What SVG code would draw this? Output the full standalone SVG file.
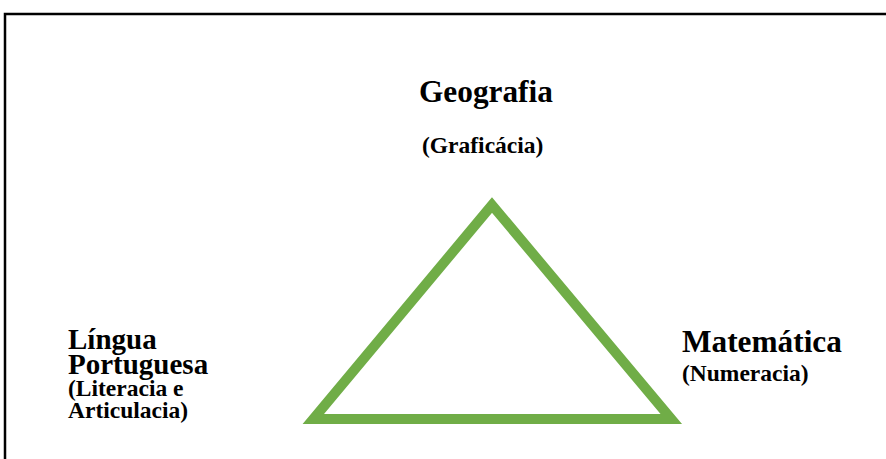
<svg xmlns="http://www.w3.org/2000/svg" width="886" height="459" viewBox="0 0 886 459">
<style>
.t{font-family:"Liberation Serif","Times New Roman",serif;font-weight:bold;fill:#000}
.h{font-size:31.3px}
.h2{font-size:29px}
.s{font-size:23.5px}
</style>
<rect width="886" height="459" fill="#fff"/>
<path d="M5 459 V14 H886" fill="none" stroke="#000" stroke-width="2.5"/>
<g id="triangle">
<polygon points="492,205 313.3,419 671.3,419" fill="none" stroke="#70AD47" stroke-width="10" stroke-linejoin="miter"/>
</g>
<g id="geografia">
<text class="t h" x="419" y="102">Geografia</text>
<text class="t s" x="422" y="153">(Graficácia)</text>
</g>
<g id="lingua">
<text class="t h2" x="68" y="349">Língua</text>
<text class="t h2" x="68" y="374">Portuguesa</text>
<text class="t s" x="68" y="396">(Literacia e</text>
<text class="t s" x="68" y="418">Articulacia)</text>
</g>
<g id="matematica">
<text class="t h" x="682" y="352">Matemática</text>
<text class="t s" x="682" y="381">(Numeracia)</text>
</g>
<g id="connectors"/>
</svg>
